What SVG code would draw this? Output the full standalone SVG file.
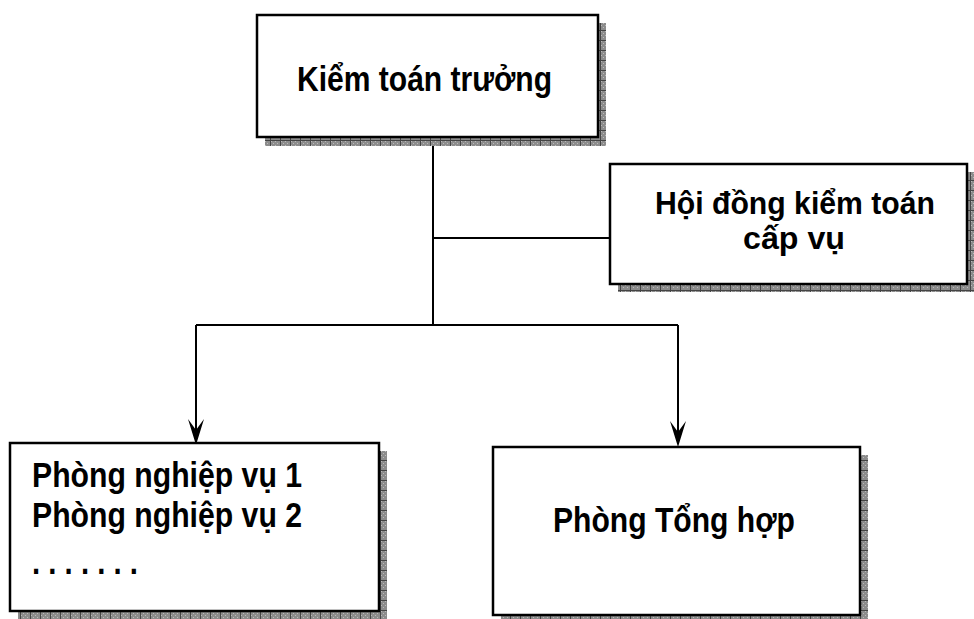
<svg xmlns="http://www.w3.org/2000/svg" width="974" height="619" viewBox="0 0 974 619">
<style>
.box{fill:#fff;stroke:#000;stroke-width:2.5}
.shadow{fill:url(#dots);stroke:none}
.t{font-family:"Liberation Sans",Arial,sans-serif;font-weight:bold;font-size:35px;fill:#000}
.s{font-size:32px}
.conn{fill:none;stroke:#000;stroke-width:2}
.arrow{fill:#000;stroke:none}
</style>
<defs>
<pattern id="dots" x="0" y="0" width="10" height="10" patternUnits="userSpaceOnUse">
<rect width="10" height="10" fill="#8c8c8c"/>
<rect x="1" y="1" width="1" height="1" fill="#bbb"/>
<rect x="3" y="3" width="1" height="1" fill="#bbb"/>
<rect x="5" y="5" width="1" height="1" fill="#bbb"/>
<rect x="7" y="7" width="1" height="1" fill="#bbb"/>
<rect x="3" y="7" width="1" height="1" fill="#bbb"/>
<rect x="7" y="3" width="1" height="1" fill="#bbb"/>
<rect x="5" y="1" width="1" height="1" fill="#bbb"/>
<rect x="1" y="5" width="1" height="1" fill="#bbb"/>
<rect x="0" y="0" width="1" height="10" fill="#444"/>
<rect x="0" y="0" width="10" height="1" fill="#444"/>
</pattern>
</defs>

<g id="connectors">
<path class="conn" d="M433,137 V325"/>
<path class="conn" d="M433,238 H610"/>
<path class="conn" d="M196,325 H678"/>
<path class="conn" d="M196,325 V432"/>
<path class="conn" d="M678,325 V435"/>
<path class="arrow" d="M196,445 L188,419 L196,430 L204,419 Z"/>
<path class="arrow" d="M678,447 L670,421 L678,432 L686,421 Z"/>
</g>

<g id="kiem-toan-truong">
<rect class="shadow" x="265" y="23" width="341" height="123"/>
<rect class="box" x="257" y="15" width="341" height="122"/>
<text class="t" x="297" y="91" textLength="255" lengthAdjust="spacingAndGlyphs">Kiểm toán trưởng</text>
</g>

<g id="hoi-dong">
<rect class="shadow" x="618" y="172" width="357" height="120"/>
<rect class="box" x="610" y="164" width="357" height="120"/>
<text class="t s" x="655" y="214" textLength="280" lengthAdjust="spacingAndGlyphs">Hội đồng kiểm toán</text>
<text class="t s" x="743" y="249" textLength="102" lengthAdjust="spacingAndGlyphs">cấp vụ</text>
</g>

<g id="phong-nghiep-vu">
<rect class="shadow" x="18" y="451" width="369" height="168"/>
<rect class="box" x="10" y="443" width="369" height="168"/>
<text class="t" x="32" y="487" textLength="270" lengthAdjust="spacingAndGlyphs">Phòng nghiệp vụ 1</text>
<text class="t" x="32" y="527" textLength="270" lengthAdjust="spacingAndGlyphs">Phòng nghiệp vụ 2</text>
<text class="t" x="32" y="574" textLength="106" lengthAdjust="spacingAndGlyphs">. . . . . . .</text>
</g>

<g id="phong-tong-hop">
<rect class="shadow" x="501" y="455" width="367" height="168"/>
<rect class="box" x="493" y="447" width="367" height="168"/>
<text class="t" x="553" y="532" textLength="242" lengthAdjust="spacingAndGlyphs">Phòng Tổng hợp</text>
</g>
</svg>
